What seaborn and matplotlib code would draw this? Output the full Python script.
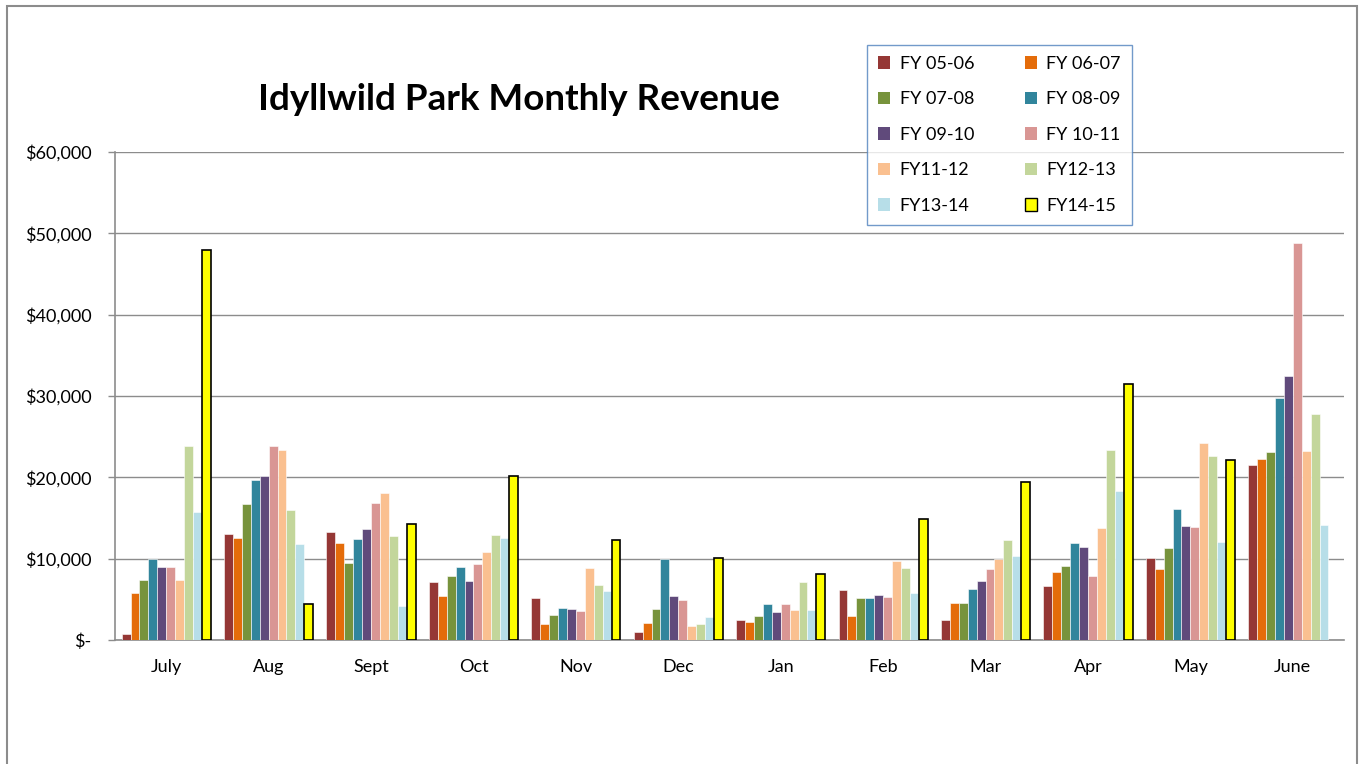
import matplotlib
matplotlib.use('Agg')
import matplotlib.pyplot as plt
import matplotlib.patches as mpatches
from matplotlib.ticker import FuncFormatter
import seaborn as sns
import pandas as pd
import numpy as np

months = ["July", "Aug", "Sept", "Oct", "Nov", "Dec",
          "Jan", "Feb", "Mar", "Apr", "May", "June"]
years = ["FY 05-06", "FY 06-07", "FY 07-08", "FY 08-09", "FY 09-10",
         "FY 10-11", "FY11-12", "FY12-13", "FY13-14", "FY14-15"]

fy0506 = [740, 13000, 13280, 7175, 5200, 940, 2500, 6110, 2500, 6640, 10090, 21570]
fy0607 = [5780, 12590, 11930, 5410, 2010, 2130, 2255, 2990, 4550, 8400, 8730, 22260]
fy0708 = [7420, 16730, 9510, 7870, 3075, 3810, 2990, 5170, 4550, 9100, 11280, 23170]
fy0809 = [9920, 19680, 12420, 8940, 3980, 9920, 4470, 5170, 6310, 11970, 16110, 29730]
fy0910 = [9020, 20210, 13610, 7300, 3850, 5370, 3440, 5580, 7260, 11400, 13980, 32430]
fy1011 = [9000, 23820, 16850, 9350, 3610, 4880, 4470, 5250, 8770, 7910, 13900, 48830]
fy1112 = [7420, 23370, 18120, 10865, 8900, 1760, 3650, 9760, 10000, 13820, 24270, 23290]
fy1213 = [23820, 15990, 12830, 12960, 6800, 1970, 7175, 8860, 12340, 23410, 22630, 27800]
fy1314 = [15785, 11810, 4180, 12590, 6030, 2870, 3650, 5820, 10370, 18330, 12100, 14100]
fy1415 = [47890, 4430, 14270, 20170, 12300, 10130, 8120, 14840, 19430, 31530, 22180, np.nan]

series = [fy0506, fy0607, fy0708, fy0809, fy0910, fy1011, fy1112, fy1213, fy1314, fy1415]

colors = ["#953735", "#E46C0A", "#77933C", "#31859C", "#604A7B",
          "#D99694", "#FAC090", "#C3D69B", "#B7DEE8", "#FFFF00"]

rows = []
for yr, vals in zip(years, series):
    for m, v in zip(months, vals):
        rows.append({"Month": m, "Year": yr, "Revenue": v})
df = pd.DataFrame(rows)

sns.set_theme(style="white")
plt.rcParams['font.family'] = ['Lato', 'DejaVu Sans']
plt.rcParams['text.color'] = 'black'
plt.rcParams['xtick.color'] = 'black'
plt.rcParams['ytick.color'] = 'black'

fig = plt.figure(figsize=(13.64, 7.64), dpi=100)
ax = fig.add_axes([115 / 1364, 1 - 640 / 764, (1344 - 115) / 1364, (640 - 152) / 764])

sns.barplot(data=df, x="Month", y="Revenue", hue="Year", order=months,
            hue_order=years, palette=colors, saturation=1, width=0.87,
            errorbar=None, legend=False, ax=ax,
            edgecolor="white", linewidth=0.4, zorder=3)

# the FY14-15 bars get a black outline
for bar in ax.containers[-1]:
    bar.set_edgecolor("black")
    bar.set_linewidth(1.2)

ax.set_ylim(0, 60000)
ax.set_xlim(-0.5, 11.5)
ax.set_yticks(range(0, 60001, 10000))
ax.yaxis.set_major_formatter(FuncFormatter(lambda v, p: "$-" if v == 0 else f"${v:,.0f}"))
ax.set_xlabel("")
ax.set_ylabel("")
ax.grid(axis="y", color="#8C8C8C", linewidth=1, zorder=0)
ax.set_axisbelow(True)
for s in ["top", "right"]:
    ax.spines[s].set_visible(False)
for s in ["left", "bottom"]:
    ax.spines[s].set_color("#8C8C8C")
    ax.spines[s].set_linewidth(1.2)
ax.tick_params(axis="y", length=5, color="#8C8C8C", width=1, pad=12, labelsize=13,
               labelcolor="black", left=True)
ax.tick_params(axis="x", length=0, pad=14, labelsize=13, labelcolor="black")

fig.text(519 / 1364, 1 - 100 / 764, "Idyllwild Park Monthly Revenue",
         ha="center", va="center", fontsize=26.5, fontweight="bold", color="black")

# legend filled row by row like the original
handles = {}
for yr, c in zip(years, colors):
    ec = "black" if yr == "FY14-15" else c
    handles[yr] = mpatches.Patch(facecolor=c, edgecolor=ec, linewidth=1 if yr == "FY14-15" else 0)
order = years[0::2] + years[1::2]
leg = fig.legend([handles[y] for y in order], order, ncol=2,
                 loc="upper left", bbox_to_anchor=(867 / 1364, 1 - 45 / 764),
                 frameon=True, fancybox=False, fontsize=13,
                 handlelength=0.7, handleheight=0.7, handletextpad=0.5,
                 labelspacing=1.08, columnspacing=2.8, borderpad=0.6,
                 borderaxespad=0)
leg.get_frame().set_edgecolor("#4F81BD")
leg.get_frame().set_linewidth(1.0)
for t in leg.get_texts():
    t.set_color("black")

# outer chart border
fig.patches.append(mpatches.Rectangle((7 / 1364, -0.05), (1357 - 7) / 1364, 1.05 - 6 / 764,
                                      transform=fig.transFigure, fill=False,
                                      edgecolor="#8C8C8C", linewidth=1.5))

fig.savefig("out.png", dpi=100)
